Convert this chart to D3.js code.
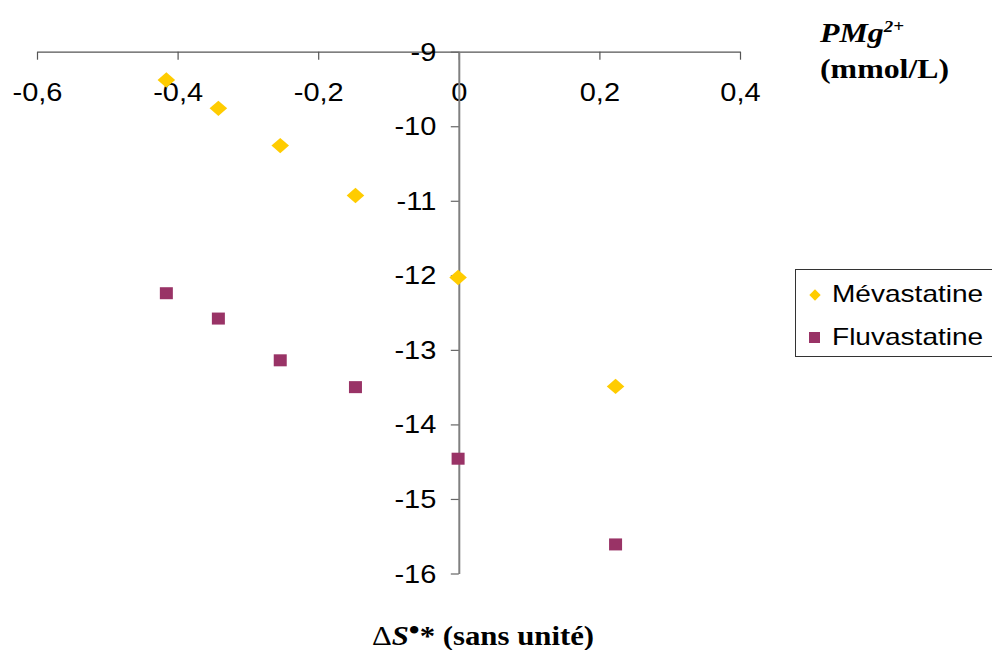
<!DOCTYPE html>
<html>
<head>
<meta charset="utf-8">
<script src="https://cdn.jsdelivr.net/npm/d3@7"></script>
<style>
  html, body { margin: 0; padding: 0; background: #fff; }
  svg { display: block; }
</style>
</head>
<body>
<svg id="chart" width="992" height="650"></svg>
<script>
// ΔS°* (dimensionless) against PMg2+ for two statins
const deltaS = [-0.416, -0.342, -0.254, -0.147, -0.001, 0.223];
const mevastatine = [-9.38, -9.76, -10.26, -10.93, -12.03, -13.49];
const fluvastatine = [-12.24, -12.58, -13.14, -13.50, -14.46, -15.61];
const xTicks = [-0.6, -0.4, -0.2, 0, 0.2, 0.4];
const yTicks = [-9, -10, -11, -12, -13, -14, -15, -16];
const seriesNames = ["Mévastatine", "Fluvastatine"];

const fr = d3.formatLocale({decimal: ",", thousands: " ", grouping: [3], currency: ["", " €"], minus: "-"});
const fmtX = v => v === 0 ? "0" : fr.format(".1f")(v);
const fmtY = fr.format("d");

const SX = 1.16;           // horizontal stretch of lettering
const sans = "'Liberation Sans', Arial, sans-serif";
const serif = "'Liberation Serif', 'Times New Roman', serif";

const svg = d3.select("#chart");
const x = d3.scaleLinear().domain([-0.6, 0.4]).range([37, 740]);
const y = d3.scaleLinear().domain([-16, -9]).range([573.5, 51.7]);

// horizontal axis, drawn along y = -9
const gx = svg.append("g")
  .attr("transform", `translate(0,${y(-9)})`)
  .call(d3.axisBottom(x).tickValues(xTicks).tickFormat(fmtX).tickSize(8).tickSizeOuter(0));
gx.select(".domain").attr("stroke", "#555").attr("stroke-width", 1.2);
gx.selectAll(".tick line").attr("stroke", "#555").attr("stroke-width", 1.2);
gx.selectAll(".tick text")
  .attr("font-family", sans).attr("font-size", 25).attr("fill", "#000")
  .attr("y", 32).attr("transform", `scale(${SX},1)`);

// vertical axis, drawn along x = 0
const gy = svg.append("g")
  .attr("transform", `translate(${x(0)},0)`)
  .call(d3.axisLeft(y).tickValues(yTicks).tickFormat(fmtY).tickSize(8).tickSizeOuter(0));
gy.select(".domain").attr("stroke", "#808080").attr("stroke-width", 2);
gy.selectAll(".tick line").attr("stroke", "#666").attr("stroke-width", 1.2);
gy.selectAll(".tick text")
  .attr("font-family", sans).attr("font-size", 25).attr("fill", "#000")
  .attr("x", -22.5 / SX).attr("dy", "0.34em").attr("transform", `scale(${SX},1)`);

// markers
const diamond = d3.symbol().type(d3.symbolSquare).size(140);
const colors = ["#FFCC00", "#993366"];

svg.append("g").selectAll("path")
  .data(deltaS.map((d, i) => [d, mevastatine[i]]))
  .join("path")
  .attr("d", diamond)
  .attr("fill", colors[0])
  .attr("transform", d => `translate(${x(d[0])},${y(d[1])}) scale(1.05,0.92) rotate(45)`);

svg.append("g").selectAll("rect")
  .data(deltaS.map((d, i) => [d, fluvastatine[i]]))
  .join("rect")
  .attr("x", d => x(d[0]) - 6.5)
  .attr("y", d => y(d[1]) - 6)
  .attr("width", 13).attr("height", 12)
  .attr("fill", colors[1]);

// legend
const lg = svg.append("g");
lg.append("rect").attr("x", 795.5).attr("y", 269.5).attr("width", 220).attr("height", 87)
  .attr("fill", "#fff").attr("stroke", "#333").attr("stroke-width", 1);
lg.append("path").attr("d", d3.symbol().type(d3.symbolSquare).size(64))
  .attr("fill", colors[0]).attr("transform", "translate(815,295) rotate(45)");
lg.append("rect").attr("x", 809).attr("y", 332).attr("width", 11).attr("height", 11).attr("fill", colors[1]);
[[seriesNames[0], 302], [seriesNames[1], 345]].forEach(([t, by]) => {
  lg.append("text").attr("font-family", sans).attr("font-size", 23).attr("fill", "#000")
    .attr("transform", `translate(832,${by}) scale(1.22,1)`).text(t);
});

// axis titles
const ty = svg.append("text").attr("font-family", serif).attr("font-weight", "bold").attr("font-size", 27)
  .attr("transform", `translate(820,42) scale(1.18,1)`);
ty.append("tspan").attr("font-style", "italic").text("PMg");
ty.append("tspan").attr("font-style", "italic").attr("font-size", 16).attr("dy", -10).text("2+");

svg.append("text").attr("font-family", serif).attr("font-weight", "bold").attr("font-size", 27)
  .attr("transform", `translate(820,78) scale(1.18,1)`).text("(mmol/L)");

const tx = svg.append("text").attr("font-family", serif).attr("font-weight", "bold").attr("font-size", 28)
  .attr("text-anchor", "middle")
  .attr("transform", `translate(483,645) scale(1.1,1)`);
tx.append("tspan").attr("font-weight", "normal").text("Δ");
tx.append("tspan").attr("font-style", "italic").text("S");
tx.append("tspan").attr("dy", -6).text("•");
tx.append("tspan").attr("dy", 6).text("* (sans unité)");
</script>
</body>
</html>
